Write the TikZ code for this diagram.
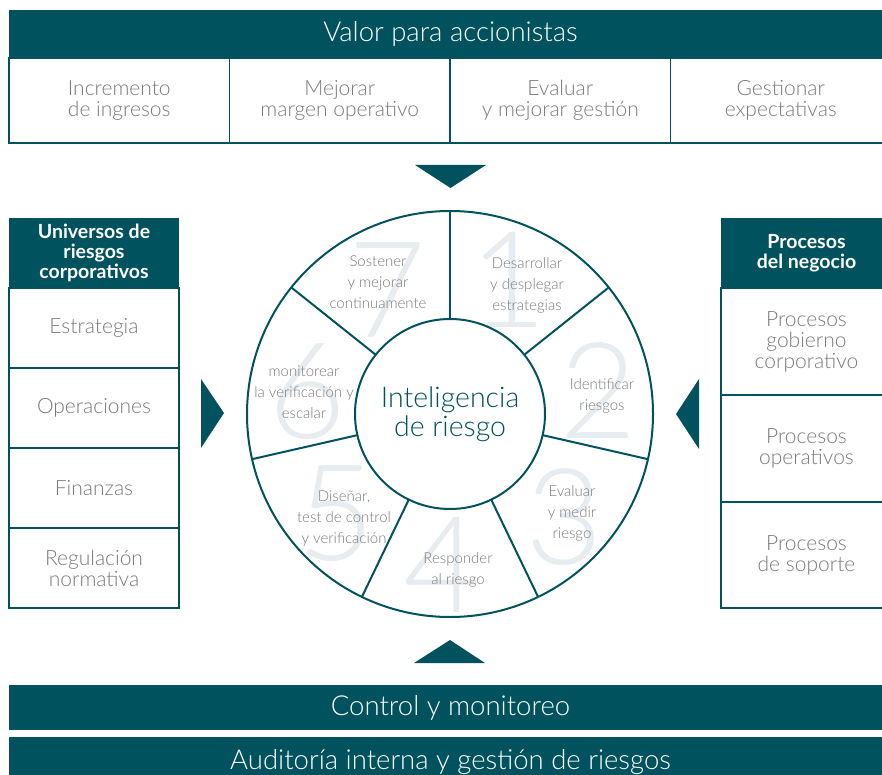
\documentclass[tikz,border=0pt]{standalone}
\usepackage{fontspec}
\setmainfont{Lato}
\IfFontExistsTF{Lato Light}{\newfontfamily\thinfont{Lato Light}}{\newfontfamily\thinfont{Lato}}

\definecolor{petrol}{HTML}{00535E}
\definecolor{greytext}{HTML}{7A7A7A}
\definecolor{paledigit}{HTML}{E6ECF0}

\tikzset{
  band/.style={fill=petrol, text=white, inner sep=0pt, minimum width=883pt, font=\thinfont\fontsize{27.5}{30}\selectfont},
  cell/.style={draw=petrol, line width=1.5pt, text=greytext, align=center, inner sep=0pt, font=\thinfont\fontsize{21}{21}\selectfont},
  head/.style={fill=petrol, text=white, align=center, inner sep=0pt, font=\bfseries\fontsize{19.5}{20}\selectfont},
  steptext/.style={text=greytext, align=center, inner sep=0pt, font=\thinfont\fontsize{15}{21}\selectfont},
  bignum/.style={text=paledigit, inner sep=0pt, font=\thinfont\fontsize{134}{134}\selectfont},
}

\begin{document}
\begin{tikzpicture}[x=1pt,y=-1pt]
\useasboundingbox (0,0) rectangle (882,775);
\fill[white] (0,0) rectangle (882,775);

% top: value for shareholders
\node[band, minimum height=48pt] (valor) at (450.5,34) {Valor para accionistas};
\node[cell, minimum width=220.5pt, minimum height=85pt] (ingresos) at (119.25,100.5) {Incremento\\de ingresos};
\node[cell, minimum width=220.5pt, minimum height=85pt] (margen) at (339.75,100.5) {Mejorar\\margen operativo};
\node[cell, minimum width=220.5pt, minimum height=85pt] (gestion) at (560.25,100.5) {Evaluar\\y mejorar gestión};
\node[cell, minimum width=220.5pt, minimum height=85pt] (expect) at (780.75,100.5) {Gestionar\\expectativas};
\fill[petrol] (415,165) -- (486,165) -- (450.5,188) -- cycle;

% left column
\node[head, minimum width=170pt, minimum height=70pt] (universos) at (94,253) {Universos de\\riesgos\\corporativos};
\node[cell, minimum width=170pt, minimum height=80pt] (estrategia) at (94,328) {Estrategia};
\node[cell, minimum width=170pt, minimum height=80pt] (operaciones) at (94,408) {Operaciones};
\node[cell, minimum width=170pt, minimum height=80pt] (finanzas) at (94,488) {Finanzas};
\node[cell, minimum width=170pt, minimum height=80pt] (regulacion) at (94,568) {Regulación\\normativa};
\fill[petrol] (201,379) -- (201,448) -- (224,413) -- cycle;

% right column
\node[head, minimum width=171pt, minimum height=70pt] (procesos) at (806.5,253) {Procesos\\del negocio};
\node[cell, minimum width=171pt, minimum height=107pt] (gobierno) at (806.5,341.5) {Procesos\\gobierno\\corporativo};
\node[cell, minimum width=171pt, minimum height=107pt] (operativos) at (806.5,448.5) {Procesos\\operativos};
\node[cell, minimum width=171pt, minimum height=106pt] (soporte) at (806.5,555) {Procesos\\de soporte};
\fill[petrol] (699,379) -- (699,449) -- (676,414) -- cycle;

% wheel
\coordinate (c) at (450,414);
\node[bignum] (n1) at (508,280) {1};
\node[bignum] (n2) at (598,391) {2};
\node[bignum] (n3) at (564,517) {3};
\node[bignum] (n4) at (442,565) {4};
\node[bignum] (n5) at (336,514) {5};
\node[bignum] (n6) at (307,392) {6};
\node[bignum] (n7) at (387,290) {7};

\node[circle, draw=petrol, line width=2pt, minimum size=406pt, inner sep=0pt, outer sep=0pt] (rim) at (c) {};
\node[circle, draw=petrol, fill=white, line width=2pt, minimum size=190pt, inner sep=0pt, outer sep=0pt,
      text=petrol, align=center, font=\thinfont\fontsize{28.5}{29}\selectfont] (hub) at (c) {Inteligencia\\de riesgo};
\foreach \k in {0,...,6}
  \draw[petrol, line width=2pt, shift={(c)}, rotate=-\k*360/7] (0,-95) -- (0,-203);

\node[steptext] (s1) at (527,285) {Desarrollar\\y desplegar\\estrategias};
\node[steptext] (s2) at (602,396) {Identificar\\riesgos};
\node[steptext] (s3) at (572,513) {Evaluar\\y medir\\riesgo};
\node[steptext] (s4) at (458,570) {Responder\\al riesgo};
\node[steptext] (s5) at (344,518) {Diseñar,\\test de control\\y verificación};
\node[steptext] (s6) at (304,392) {monitorear\\la verificación y\\escalar};
\node[steptext] (s7) at (378,282) {Sostener\\y mejorar\\continuamente};

% bottom bands
\fill[petrol] (414,663) -- (485,663) -- (450,640) -- cycle;
\node[band, minimum height=45pt] (control) at (450.5,707.5) {Control y monitoreo};
\node[band, minimum height=50pt] (auditoria) at (450.5,762) {Auditoría interna y gestión de riesgos};
\end{tikzpicture}
\end{document}
